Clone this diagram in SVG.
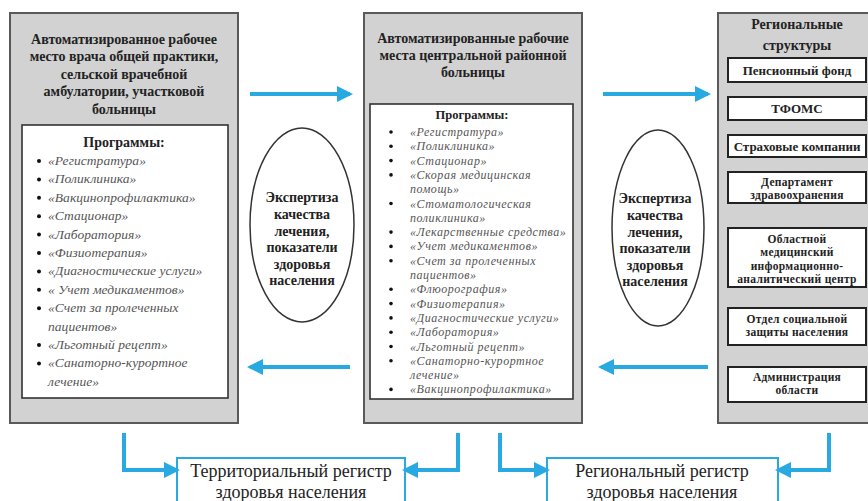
<svg xmlns="http://www.w3.org/2000/svg" width="868" height="501" viewBox="0 0 868 501">
<defs>
<style>
.panel{fill:#d2d2d2;stroke:#5a5a5a;stroke-width:2}
.inner{fill:#ffffff;stroke:#333;stroke-width:1.6}
.rbox{fill:#ffffff;stroke:#222;stroke-width:2}
.ell{fill:#ffffff;stroke:#333;stroke-width:1.5}
.bbox{fill:#ffffff;stroke:#29a9e1;stroke-width:2}
.t{font-family:'Liberation Serif','DejaVu Serif',serif;fill:#222;text-anchor:middle}
.b{font-weight:bold}
.h{font-size:14px;font-weight:bold}
.it{font-family:'Liberation Serif','DejaVu Serif',serif;font-style:italic;fill:#555}
.li{font-size:13.5px;letter-spacing:0.05px}
.mi{font-size:12px;letter-spacing:0.55px}
.bul{fill:#111}
.rt{font-size:13px;font-weight:bold}
.rm{font-size:11.5px;font-weight:bold;letter-spacing:0.3px}
.bt{font-size:18px}
.conn{fill:none;stroke:#29a9e1;stroke-width:4}
</style>
<marker id="ah" markerUnits="userSpaceOnUse" markerWidth="16" markerHeight="16" refX="13" refY="8" orient="auto" viewBox="0 0 16 16">
<path d="M0,0 L16,8 L0,16 z" fill="#29a9e1"/>
</marker>
</defs>

<g id="left-panel">
<rect class="panel" x="10" y="13" width="228" height="410"/>
<text class="t h"><tspan x="124" y="43.5">Автоматизированное рабочее</tspan><tspan x="124" y="61">место врача общей практики,</tspan><tspan x="124" y="78.5">сельской врачебной</tspan><tspan x="124" y="96">амбулатории, участковой</tspan><tspan x="124" y="113.5">больницы</tspan></text>
<rect class="inner" x="22" y="125" width="206" height="273"/>
<text class="t h" x="124" y="146.5">Программы:</text>
<g class="bul">
<circle cx="39" cy="161" r="2"/><circle cx="39" cy="179.4" r="2"/><circle cx="39" cy="197.8" r="2"/><circle cx="39" cy="216.2" r="2"/><circle cx="39" cy="234.6" r="2"/><circle cx="39" cy="253" r="2"/><circle cx="39" cy="271.4" r="2"/><circle cx="39" cy="289.8" r="2"/><circle cx="39" cy="308.2" r="2"/><circle cx="39" cy="345" r="2"/><circle cx="39" cy="363.4" r="2"/>
</g>
<text class="it li">
<tspan x="48" y="165">«Регистратура»</tspan>
<tspan x="48" y="183.4">«Поликлиника»</tspan>
<tspan x="48" y="201.8">«Вакцинопрофилактика»</tspan>
<tspan x="48" y="220.2">«Стационар»</tspan>
<tspan x="48" y="238.6">«Лаборатория»</tspan>
<tspan x="48" y="257">«Физиотерапия»</tspan>
<tspan x="48" y="275.4">«Диагностические услуги»</tspan>
<tspan x="48" y="293.8">« Учет медикаментов»</tspan>
<tspan x="48" y="312.2">«Счет за пролеченных</tspan>
<tspan x="48" y="330.6">пациентов»</tspan>
<tspan x="48" y="349">«Льготный рецепт»</tspan>
<tspan x="48" y="367.4">«Санаторно-курортное</tspan>
<tspan x="48" y="385.8">лечение»</tspan>
</text>
</g>

<g id="middle-panel">
<rect class="panel" x="364" y="13" width="218" height="410"/>
<text class="t h"><tspan x="473" y="43">Автоматизированные рабочие</tspan><tspan x="473" y="60">места центральной районной</tspan><tspan x="473" y="77">больницы</tspan></text>
<rect class="inner" x="370" y="104" width="203" height="295"/>
<text class="t b" style="font-size:12.5px" x="472" y="119">Программы:</text>
<g class="bul">
<circle cx="391" cy="132" r="1.8"/><circle cx="391" cy="146.3" r="1.8"/><circle cx="391" cy="160.6" r="1.8"/><circle cx="391" cy="174.9" r="1.8"/><circle cx="391" cy="203.5" r="1.8"/><circle cx="391" cy="232.1" r="1.8"/><circle cx="391" cy="246.4" r="1.8"/><circle cx="391" cy="260.7" r="1.8"/><circle cx="391" cy="289.3" r="1.8"/><circle cx="391" cy="303.6" r="1.8"/><circle cx="391" cy="317.9" r="1.8"/><circle cx="391" cy="332.2" r="1.8"/><circle cx="391" cy="346.5" r="1.8"/><circle cx="391" cy="360.8" r="1.8"/><circle cx="391" cy="389.4" r="1.8"/>
</g>
<text class="it mi">
<tspan x="410" y="136">«Регистратура»</tspan>
<tspan x="410" y="150.3">«Поликлиника»</tspan>
<tspan x="410" y="164.6">«Стационар»</tspan>
<tspan x="410" y="178.9">«Скорая медицинская</tspan>
<tspan x="410" y="193.2">помощь»</tspan>
<tspan x="410" y="207.5">«Стоматологическая</tspan>
<tspan x="410" y="221.8">поликлиника»</tspan>
<tspan x="410" y="236.1">«Лекарственные средства»</tspan>
<tspan x="410" y="250.4">«Учет медикаментов»</tspan>
<tspan x="410" y="264.7">«Счет за пролеченных</tspan>
<tspan x="410" y="279">пациентов»</tspan>
<tspan x="410" y="293.3">«Флюорография»</tspan>
<tspan x="410" y="307.6">«Физиотерапия»</tspan>
<tspan x="410" y="321.9">«Диагностические услуги»</tspan>
<tspan x="410" y="336.2">«Лаборатория»</tspan>
<tspan x="410" y="350.5">«Льготный рецепт»</tspan>
<tspan x="410" y="364.8">«Санаторно-курортное</tspan>
<tspan x="410" y="379.1">лечение»</tspan>
<tspan x="410" y="393.4">«Вакцинопрофилактика»</tspan>
</text>
</g>

<g id="right-panel">
<rect class="panel" x="718" y="13" width="160" height="410"/>
<text class="t h"><tspan x="797" y="29">Региональные</tspan><tspan x="797" y="50">структуры</tspan></text>
</g>
<g id="pension"><rect class="rbox" x="728" y="58" width="138" height="24"/><text class="t rt" x="797" y="74.5">Пенсионный фонд</text></g>
<g id="tfoms"><rect class="rbox" x="728" y="97" width="138" height="23"/><text class="t rt" x="797" y="113">ТФОМС</text></g>
<g id="insurance"><rect class="rbox" x="728" y="135" width="138" height="22"/><text class="t rt" x="797" y="150.5">Страховые компании</text></g>
<g id="health-dept"><rect class="rbox" x="728" y="172" width="138" height="31"/><text class="t rm"><tspan x="797" y="185.5">Департамент</tspan><tspan x="797" y="198.8">здравоохранения</tspan></text></g>
<g id="miac"><rect class="rbox" x="728" y="228" width="138" height="59"/><text class="t rm"><tspan x="797" y="243">Областной</tspan><tspan x="797" y="256.3">медицинский</tspan><tspan x="797" y="269.6">информационно-</tspan><tspan x="797" y="282.9">аналитический центр</tspan></text></g>
<g id="social"><rect class="rbox" x="728" y="308" width="138" height="37"/><text class="t rm"><tspan x="797" y="323">Отдел социальной</tspan><tspan x="797" y="336.3">защиты населения</tspan></text></g>
<g id="admin"><rect class="rbox" x="728" y="367" width="138" height="35"/><text class="t rm"><tspan x="797" y="381">Администрация</tspan><tspan x="797" y="394.3">области</tspan></text></g>

<g id="expert-left">
<ellipse class="ell" cx="302" cy="225" rx="52" ry="97"/>
<text class="t b" style="font-size:14px"><tspan x="302" y="202">Экспертиза</tspan><tspan x="302" y="219">качества</tspan><tspan x="302" y="235.5">лечения,</tspan><tspan x="302" y="252">показатели</tspan><tspan x="302" y="268.5">здоровья</tspan><tspan x="302" y="285">населения</tspan></text>
</g>
<g id="expert-right">
<ellipse class="ell" cx="658" cy="228" rx="46" ry="98"/>
<text class="t b" style="font-size:14px"><tspan x="655" y="203">Экспертиза</tspan><tspan x="655" y="220">качества</tspan><tspan x="655" y="236.5">лечения,</tspan><tspan x="655" y="253">показатели</tspan><tspan x="655" y="269.5">здоровья</tspan><tspan x="655" y="286">населения</tspan></text>
</g>

<g id="reg-territorial"><rect class="bbox" x="177" y="458" width="228" height="60"/><text class="t bt"><tspan x="291" y="477">Территориальный регистр</tspan><tspan x="291" y="498">здоровья населения</tspan></text></g>
<g id="reg-regional"><rect class="bbox" x="547" y="458" width="231" height="60"/><text class="t bt"><tspan x="662" y="477">Региональный регистр</tspan><tspan x="662" y="498">здоровья населения</tspan></text></g>

<g id="connectors">
<line class="conn" x1="250" y1="94" x2="350" y2="94" marker-end="url(#ah)"/>
<line class="conn" x1="603" y1="94" x2="708" y2="94" marker-end="url(#ah)"/>
<line class="conn" x1="350" y1="367" x2="250" y2="367" marker-end="url(#ah)"/>
<line class="conn" x1="708" y1="367" x2="601" y2="367" marker-end="url(#ah)"/>
<path class="conn" d="M124,433 V470 H177" marker-end="url(#ah)"/>
<path class="conn" d="M458,433 V470 H405" marker-end="url(#ah)"/>
<path class="conn" d="M500,433 V470 H547" marker-end="url(#ah)"/>
<path class="conn" d="M829,433 V470 H778" marker-end="url(#ah)"/>
</g>
</svg>
